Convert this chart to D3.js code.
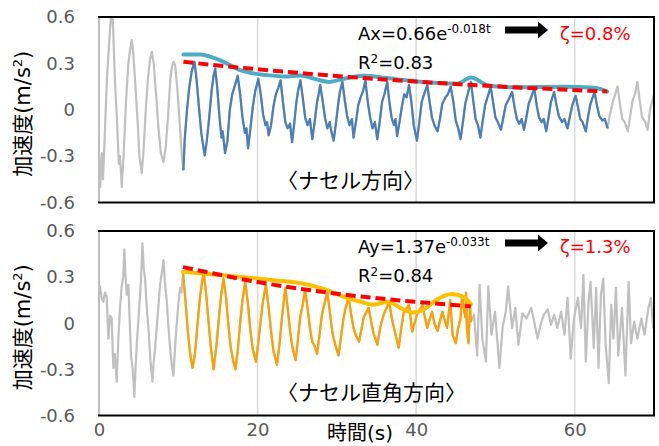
<!DOCTYPE html>
<html><head><meta charset="utf-8">
<script src="https://cdn.jsdelivr.net/npm/d3@7"></script>
<style>body{margin:0;background:#fff}svg{display:block}</style>
</head><body>
<svg id="chart" width="659" height="446"></svg>
<script>
// ---------- data ----------
const timeTicks = [0, 20, 40, 60];
const accelTicks = [-0.6, -0.3, 0, 0.3, 0.6];
const timeDomain = [0, 70];
const accelDomain = [-0.6, 0.6];

// nacelle direction acceleration [t (s), a (m/s2)]
const nacelleSignal = [
 [0,-0.30],[0.15,-0.50],[0.35,-0.28],[0.5,-0.45],[0.7,-0.2],[1.0,0.2],[1.3,0.45],[1.55,0.62],[1.75,0.58],[2.0,0.2],[2.3,-0.1],[2.5,-0.35],[2.65,-0.3],[2.87,-0.50],[3.1,-0.3],[3.4,0.05],[3.7,0.3],[3.9,0.38],[4.13,0.45],[4.3,0.38],[4.6,0.15],[4.9,-0.1],[5.1,-0.3],[5.39,-0.41],[5.6,-0.28],[5.9,0.0],[6.2,0.22],[6.45,0.33],[6.66,0.375],[6.9,0.3],[7.2,0.1],[7.5,-0.12],[7.8,-0.28],[8.13,-0.34],[8.4,-0.25],[8.7,-0.05],[9.0,0.2],[9.2,0.28],[9.39,0.31],[9.6,0.29],[9.9,0.12],[10.2,-0.1],[10.45,-0.3],[10.65,-0.39],
 [10.8,-0.2],[11.1,0.0],[11.4,0.15],[11.7,0.25],[12.04,0.31],[12.3,0.2],[12.6,0.02],[12.9,-0.15],[13.1,-0.22],[13.33,-0.295],[13.6,-0.2],[13.9,-0.05],[14.2,0.12],[14.45,0.22],[14.66,0.267],[14.9,0.15],[15.2,-0.05],[15.45,-0.18],[15.6,-0.14],[15.9,-0.28],[16.2,-0.2],[16.5,0.0],[16.8,0.1],[17.1,0.15],[17.5,0.22],[17.8,0.1],[18.1,-0.05],[18.4,-0.15],[18.6,-0.12],[18.8,-0.25],[19.1,-0.12],[19.4,0.02],[19.7,0.12],[20.1,0.20],[20.4,0.1],[20.7,-0.03],[21.0,-0.1],[21.2,-0.08],[21.4,-0.165],[21.7,-0.1],[22.0,0.02],[22.3,0.1],[22.6,0.14],[22.9,0.19],[23.2,0.05],[23.5,-0.08],[23.8,-0.12],[24.1,-0.09],[24.35,-0.21],[24.6,-0.1],[24.9,0.05],[25.1,0.12],[25.4,0.19],[25.7,0.08],[26.0,-0.05],[26.3,-0.1],[26.6,-0.06],[26.9,-0.19],[27.2,-0.08],[27.5,0.05],[27.7,0.1],[27.9,0.16],[28.2,0.06],[28.5,-0.05],[28.8,-0.12],[29.1,-0.08],[29.3,-0.14],[29.6,-0.20],[29.9,-0.08],[30.2,0.05],[30.4,0.12],[30.7,0.18],[31.0,0.06],[31.3,-0.04],[31.6,-0.1],[31.9,-0.06],[32.1,-0.18],[32.4,-0.08],[32.7,0.03],[33.0,0.08],[33.3,0.12],[33.6,0.19],[33.9,0.05],[34.2,-0.05],[34.5,-0.12],[34.8,-0.08],[35.1,-0.19],[35.4,-0.08],[35.7,0.05],[36.0,0.1],[36.35,0.18],[36.6,0.06],[36.9,-0.05],[37.2,-0.1],[37.4,-0.06],[37.6,-0.17],[37.9,-0.08],[38.2,0.02],[38.5,0.1],[38.8,0.08],[39.1,0.16],[39.4,0.05],[39.7,-0.1],[40.1,-0.20],[40.4,-0.08],[40.7,0.05],[41.0,0.1],[41.4,0.16],[41.7,0.05],[42.0,-0.05],[42.3,-0.1],[42.7,-0.14],[43.0,-0.06],[43.3,0.04],[43.7,0.08],[44.0,0.1],[44.35,0.15],[44.7,0.05],[45.0,-0.07],[45.3,-0.12],[45.6,-0.19],[45.9,-0.08],[46.2,0.04],[46.5,0.1],[46.9,0.18],[47.2,0.06],[47.5,-0.06],[47.8,-0.1],[48.1,-0.18],[48.4,-0.07],[48.7,0.03],[49.0,0.08],[49.4,0.15],[49.7,0.05],[50.0,-0.05],[50.3,-0.08],[50.7,-0.13],[51.0,-0.05],[51.3,0.03],[51.7,0.07],[52.1,0.115],[52.4,0.02],[52.7,-0.06],[53.0,-0.09],[53.3,-0.06],[53.6,-0.13],[53.9,-0.05],[54.2,0.04],[54.5,0.08],[54.9,0.14],[55.2,0.03],[55.5,-0.05],[55.8,-0.08],[56.1,-0.06],[56.4,-0.14],[56.7,-0.05],[57.0,0.05],[57.4,0.115],[57.7,0.03],[58.0,-0.04],[58.4,-0.08],[58.7,-0.06],[59.1,-0.12],[59.4,-0.04],[59.7,0.03],[60.1,0.09],[60.4,0.02],[60.7,-0.06],[61.0,-0.08],[61.4,-0.14],[61.7,-0.04],[62.0,0.04],[62.5,0.115],[62.8,0.03],[63.1,-0.04],[63.5,-0.07],[63.8,-0.06],[64.15,-0.12],
 [64.4,-0.04],[64.8,0.05],[65.1,0.1],[65.4,0.15],[65.7,0.04],[66.0,-0.06],[66.3,-0.08],[66.7,-0.14],[67.0,-0.04],[67.3,0.06],[67.6,0.1],[67.9,0.18],[68.2,0.06],[68.5,-0.05],[68.9,-0.08],[69.2,-0.13],[69.5,0.0],[70,0.1]
];
const nacelleWindow = [10.65, 64.15];
const nacelleEnvelope = [[10.65,0.358],[12.8,0.358],[14.5,0.335],[16.1,0.30],[17.8,0.256],[21.2,0.224],[23.5,0.215],[25.4,0.222],[27.2,0.2],[29,0.18],[30.8,0.2],[33.4,0.22],[36.3,0.205],[39.7,0.185],[42.3,0.175],[45.2,0.168],[46.9,0.208],[49.2,0.155],[52.8,0.145],[58.7,0.148],[62.4,0.142],[64.1,0.118]];
const nacelleFit = [[10.65,0.31],[20,0.262],[30,0.218],[40,0.182],[50,0.152],[64.1,0.118]];

// perpendicular direction acceleration [t (s), a (m/s2)]
const perpSignal = [
 [0,0.185],[0.13,0.24],[0.35,0.16],[0.55,0.14],[0.75,0.2],[0.97,0.175],[1.18,-0.10],[1.4,0.05],[1.6,0.03],[1.81,-0.29],[2.0,-0.2],[2.23,-0.38],[2.44,-0.10],[2.65,0.1],[2.86,0.24],[3.05,0.3],[3.2,0.48],[3.35,0.3],[3.5,0.185],[3.7,0.25],[4.04,-0.21],[4.25,-0.3],[4.46,-0.48],[4.6,-0.3],[4.76,-0.14],[5.0,0.05],[5.18,0.185],[5.3,0.3],[5.48,0.52],[5.65,0.35],[5.81,0.29],[6.0,0.12],[6.23,-0.03],[6.5,-0.25],[6.74,-0.38],[6.9,-0.25],[7.08,-0.16],[7.4,0.05],[7.7,0.25],[7.9,0.32],[8.13,0.41],[8.35,0.25],[8.55,0.14],[8.75,-0.02],[8.97,-0.16],[9.2,-0.28],[9.39,-0.34],[9.6,-0.15],[9.82,0.01],[10.0,0.12],[10.24,0.23],[10.4,0.2],[10.6,0.33],
 [10.9,0.15],[11.2,-0.05],[11.5,-0.2],[11.8,-0.29],[12.1,-0.2],[12.4,-0.02],[12.7,0.15],[13.0,0.27],[13.2,0.33],[13.5,0.2],[13.8,0.02],[14.1,-0.15],[14.45,-0.30],[14.8,-0.15],[15.1,0.02],[15.4,0.18],[15.7,0.29],[16.0,0.18],[16.3,0.0],[16.6,-0.15],[16.9,-0.24],[17.2,-0.30],[17.5,-0.18],[17.8,0.0],[18.1,0.15],[18.45,0.27],[18.8,0.12],[19.1,-0.05],[19.4,-0.17],[19.8,-0.25],[20.1,-0.12],[20.4,0.02],[20.7,0.15],[21.06,0.25],[21.4,0.1],[21.7,-0.05],[22.0,-0.18],[22.45,-0.27],[22.8,-0.12],[23.1,0.05],[23.5,0.23],[23.8,0.1],[24.1,-0.05],[24.4,-0.16],[24.8,-0.24],[25.1,-0.1],[25.4,0.05],[25.7,0.12],[26.0,0.22],[26.3,0.1],[26.6,-0.03],[26.9,-0.12],[27.2,-0.15],[27.5,-0.20],[27.8,-0.08],[28.1,0.05],[28.4,0.12],[28.8,0.20],[29.1,0.08],[29.4,-0.05],[29.7,-0.12],[30.2,-0.21],[30.5,-0.1],[30.8,0.02],[31.1,0.1],[31.5,0.17],[31.8,0.06],[32.1,-0.03],[32.4,-0.08],[32.8,-0.12],[33.1,-0.04],[33.4,0.04],[34.0,0.10],[34.3,0.02],[34.6,-0.06],[35.1,-0.14],[35.5,-0.02],[35.9,0.055],[36.6,0.14],[36.9,0.04],[37.2,-0.03],[37.8,-0.16],[38.1,-0.04],[38.45,0.075],[39.1,0.12],[39.5,-0.055],[39.8,0.0],[40.1,0.055],[40.8,0.12],[41.1,0.04],[41.4,-0.03],[42.0,0.075],[42.3,0.0],[42.7,-0.05],[43.3,0.075],[43.6,0.02],[43.9,-0.03],[44.3,0.15],[44.6,-0.075],[45.0,-0.13],[45.3,-0.03],[45.6,0.03],[45.8,0.18],[46.0,0.10],[46.2,0.04],[46.3,0.2],[46.4,-0.03],[46.6,-0.13],[46.8,0.12],[46.9,0.01],
 [47.3,0.055],[47.7,-0.21],[48.0,0.25],[48.35,-0.10],[48.8,-0.25],[49.1,0.24],[49.5,-0.075],[49.95,0.075],[50.5,-0.29],[50.9,-0.03],[51.3,0.075],[51.6,0.24],[52.1,-0.03],[52.5,0.10],[52.9,-0.14],[53.4,0.065],[53.9,0.03],[54.5,0.10],[54.9,0.01],[55.3,-0.10],[55.7,-0.01],[56.1,0.055],[56.6,0.09],[57.0,-0.01],[57.4,0.055],[57.8,-0.03],[58.3,0.075],[58.7,-0.075],[59.1,0.165],[59.5,-0.23],[59.9,0.03],[60.4,0.165],[60.8,-0.03],[61.1,0.315],[61.4,-0.25],[61.75,0.14],[62.0,0.27],[62.4,-0.16],[62.7,0.23],[63.0,-0.29],[63.3,0.185],[63.6,0.29],[63.9,-0.14],[64.3,-0.39],[64.6,0.12],[64.9,-0.10],[65.2,0.23],[65.5,-0.21],[65.96,0.10],[66.4,-0.34],[66.8,0.27],[67.1,-0.13],[67.5,0.01],[67.9,-0.10],[68.4,0.03],[68.8,-0.075],[69.3,0.10],[69.6,0.165],[69.9,-0.03],[70,0.10]
];
const perpWindow = [10.6, 46.9];
const perpEnvelope = [[10.6,0.335],[16,0.31],[22,0.28],[26,0.255],[28.5,0.22],[31,0.17],[33,0.14],[34.5,0.12],[36.5,0.14],[38,0.10],[39.5,0.07],[41,0.09],[42.5,0.15],[44.5,0.19],[46,0.17],[46.9,0.125]];
const perpFit = [[10.6,0.365],[20,0.268],[30,0.192],[40,0.139],[46.9,0.11]];

const panelTitles = ["〈ナセル方向〉", "〈ナセル直角方向〉"];
const fitNames = ["Ax", "Ay"];
const fitCoefs = ["0.66", "1.37"];
const fitExps = ["-0.018t", "-0.033t"];
const fitR2 = ["0.83", "0.84"];
const dampingRatios = ["0.8%", "1.3%"];
const yTitle = "加速度(m/s";
const xTitle = "時間(s)";

// ---------- drawing ----------
const svg = d3.select("#chart");
const FONT = "'DejaVu Sans','Noto Sans CJK JP',sans-serif";
const x = d3.scaleLinear().domain(timeDomain).range([99, 654]);

const panels = [
  {top: 17, bottom: 202.5, signal: nacelleSignal, win: nacelleWindow, color: "#4a7ebb",
   env: nacelleEnvelope, envColor: "#4bacc6", fit: nacelleFit, i: 0},
  {top: 231, bottom: 415.5, signal: perpSignal, win: perpWindow, color: "#ffa000",
   env: perpEnvelope, envColor: "#ffc000", fit: perpFit, i: 1}
];

panels.forEach(p => {
  const y = d3.scaleLinear().domain(accelDomain).range([p.bottom, p.top]);
  const g = svg.append("g");
  const cid = "clip" + p.i;
  svg.append("clipPath").attr("id", cid).append("rect")
    .attr("x", x(timeDomain[0])).attr("y", p.top)
    .attr("width", x(timeDomain[1]) - x(timeDomain[0])).attr("height", p.bottom - p.top);

  // gridlines
  g.selectAll(".grid").data(timeTicks.filter(t => t > 0)).join("line")
    .attr("x1", d => x(d)).attr("x2", d => x(d))
    .attr("y1", p.top).attr("y2", p.bottom)
    .attr("stroke", "#d9d9d9").attr("stroke-width", 1.5);

  const line = d3.line().x(d => x(d[0])).y(d => y(d[1]));
  const smooth = d3.line().x(d => x(d[0])).y(d => y(d[1])).curve(d3.curveMonotoneX);
  const plot = g.append("g").attr("clip-path", `url(#${cid})`);

  plot.append("path").datum(p.signal).attr("d", line)
    .attr("fill", "none").attr("stroke", "#c0c0c0").attr("stroke-width", 2.2).attr("stroke-linejoin", "round");
  plot.append("path").datum(p.signal.filter(d => d[0] >= p.win[0] && d[0] <= p.win[1])).attr("d", line)
    .attr("fill", "none").attr("stroke", p.color).attr("stroke-width", 2.2).attr("stroke-linejoin", "round");
  plot.append("path").datum(p.env).attr("d", smooth)
    .attr("fill", "none").attr("stroke", p.envColor).attr("stroke-width", 4).attr("stroke-linecap", "round");
  plot.append("path").datum(p.fit).attr("d", smooth)
    .attr("fill", "none").attr("stroke", "#ff0000").attr("stroke-width", 4).attr("stroke-dasharray", "10,5");

  // frame
  g.append("line").attr("x1", x(0)).attr("x2", x(0)).attr("y1", p.top).attr("y2", p.bottom)
    .attr("stroke", "#bfbfbf").attr("stroke-width", 2);
  g.append("path")
    .attr("d", `M${x(0) - 1},${p.top}H${x(70)}V${p.bottom}H${x(0) - 1}`)
    .attr("fill", "none").attr("stroke", "#000").attr("stroke-width", 2);

  // y axis
  const ya = g.append("g").attr("transform", `translate(${x(0)},0)`)
    .call(d3.axisLeft(y).tickValues(accelTicks).tickSize(0).tickPadding(24)
      .tickFormat(d => d === 0 ? "0" : d.toFixed(1)));
  ya.select(".domain").remove();
  ya.selectAll("text").attr("font-family", FONT).attr("font-size", 18).attr("fill", "#595959");

  // y title
  const yt = g.append("text").attr("transform", `translate(30,${(p.top + p.bottom) / 2 + 4}) rotate(-90)`)
    .attr("text-anchor", "middle").attr("font-family", FONT).attr("font-size", 21).attr("fill", "#000");
  yt.append("tspan").text(yTitle);
  yt.append("tspan").attr("font-size", 13).attr("dy", -8).text("2");
  yt.append("tspan").attr("dy", 8).text(")");

  // panel title
  g.append("text").attr("x", 277).attr("y", p.top + (p.i === 0 ? 171 : 169))
    .attr("font-family", FONT).attr("font-size", 21).attr("fill", "#000").text(panelTitles[p.i]);

  // equation
  const eqY = p.top + (p.i === 0 ? 23 : 22);
  const eq = g.append("text").attr("x", 358).attr("y", eqY)
    .attr("font-family", FONT).attr("font-size", 18).attr("fill", "#000");
  eq.append("tspan").text(`${fitNames[p.i]}=${fitCoefs[p.i]}e`);
  eq.append("tspan").attr("font-size", 12).attr("dy", -7).text(fitExps[p.i]);

  const r2 = g.append("text").attr("x", 358).attr("y", eqY + 29)
    .attr("font-family", FONT).attr("font-size", 18).attr("fill", "#000");
  r2.append("tspan").text("R");
  r2.append("tspan").attr("font-size", 12).attr("dy", -6).text("2");
  r2.append("tspan").attr("dy", 6).text(`=${fitR2[p.i]}`);

  // arrow
  const ay = eqY - 10;
  g.append("path")
    .attr("d", `M505,${ay - 3.5}H538V${ay - 8.5}L548,${ay}L538,${ay + 8.5}V${ay + 3.5}H505Z`)
    .attr("fill", "#000");

  g.append("text").attr("x", 560).attr("y", eqY)
    .attr("font-family", FONT).attr("font-size", 18).attr("fill", "#ff0000")
    .text(`ζ=${dampingRatios[p.i]}`);

  if (p.i === 1) {
    const xa = g.append("g").attr("transform", `translate(0,${p.bottom})`)
      .call(d3.axisBottom(x).tickValues(timeTicks).tickSize(0).tickPadding(8).tickFormat(d3.format("d")));
    xa.select(".domain").remove();
    xa.selectAll("text").attr("font-family", FONT).attr("font-size", 18).attr("fill", "#595959");
    g.append("text").attr("x", 360).attr("y", 440).attr("text-anchor", "middle")
      .attr("font-family", FONT).attr("font-size", 20).attr("fill", "#000").text(xTitle);
  }
});
</script>
</body></html>
